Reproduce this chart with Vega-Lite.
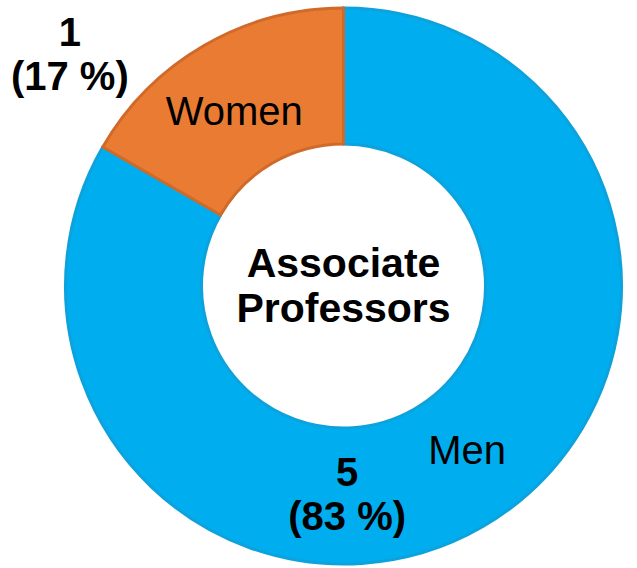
{
  "$schema": "https://vega.github.io/schema/vega-lite/v6.json",
  "width": 587,
  "height": 564,
  "autosize": "none",
  "padding": {"left": 50, "top": 4, "right": 0, "bottom": 0},
  "background": "white",
  "config": {"view": {"stroke": null}},
  "data": {
    "values": [
      {"category": "Men", "count": 5, "valueLabel": "5\n(83 %)"},
      {"category": "Women", "count": 1, "valueLabel": "1\n(17 %)"}
    ]
  },
  "layer": [
    {
      "mark": {"type": "arc", "radius": 278, "innerRadius": 142, "strokeWidth": 3},
      "encoding": {
        "theta": {"field": "count", "type": "quantitative", "stack": true},
        "order": {"field": "category", "sort": "ascending"},
        "color": {"field": "category", "type": "nominal", "scale": {"domain": ["Men", "Women"], "range": ["#00AEEF", "#EA7B33"]}, "legend": null},
        "stroke": {"field": "category", "type": "nominal", "scale": {"domain": ["Men", "Women"], "range": ["#0DA2DC", "#CF6A2A"]}, "legend": null}
      }
    },
    {
      "mark": {"type": "text", "radius": 206, "thetaOffset": -0.035, "font": "Liberation Sans", "fontSize": 40, "fill": "black", "align": "center", "baseline": "middle", "dy": 2},
      "encoding": {
        "theta": {"field": "count", "type": "quantitative", "stack": true},
        "order": {"field": "category", "sort": "ascending"},
        "detail": {"field": "category", "type": "nominal"},
        "text": {"condition": {"test": "datum.category === 'Women'", "field": "category"}, "value": ""}
      }
    },
    {
      "mark": {"type": "text", "radius": 207, "thetaOffset": -0.116, "font": "Liberation Sans", "fontSize": 40, "fill": "black", "align": "center", "baseline": "middle"},
      "encoding": {
        "theta": {"field": "count", "type": "quantitative", "stack": true},
        "order": {"field": "category", "sort": "ascending"},
        "detail": {"field": "category", "type": "nominal"},
        "text": {"condition": {"test": "datum.category === 'Men'", "field": "category"}, "value": ""}
      }
    },
    {
      "mark": {"type": "text", "radius": 208, "thetaOffset": 0.506, "font": "Liberation Sans", "fontSize": 40, "fontWeight": "bold", "fill": "black", "align": "center", "baseline": "middle", "lineBreak": "\n", "lineHeight": 44, "dy": -20},
      "encoding": {
        "theta": {"field": "count", "type": "quantitative", "stack": true},
        "order": {"field": "category", "sort": "ascending"},
        "detail": {"field": "category", "type": "nominal"},
        "text": {"condition": {"test": "datum.category === 'Men'", "field": "valueLabel"}, "value": ""}
      }
    },
    {
      "mark": {"type": "text", "radius": 360, "thetaOffset": -0.34, "font": "Liberation Sans", "fontSize": 40, "fontWeight": "bold", "fill": "black", "align": "center", "baseline": "middle", "lineBreak": "\n", "lineHeight": 44, "dy": -18},
      "encoding": {
        "theta": {"field": "count", "type": "quantitative", "stack": true},
        "order": {"field": "category", "sort": "ascending"},
        "detail": {"field": "category", "type": "nominal"},
        "text": {"condition": {"test": "datum.category === 'Women'", "field": "valueLabel"}, "value": ""}
      }
    },
    {
      "data": {"values": [{"title": "Associate\nProfessors"}]},
      "mark": {"type": "text", "font": "Liberation Sans", "fontSize": 41, "fontWeight": "bold", "fill": "black", "align": "center", "baseline": "middle", "lineBreak": "\n", "lineHeight": 45, "dy": -21},
      "encoding": {
        "text": {"field": "title", "type": "nominal"}
      }
    }
  ]
}
